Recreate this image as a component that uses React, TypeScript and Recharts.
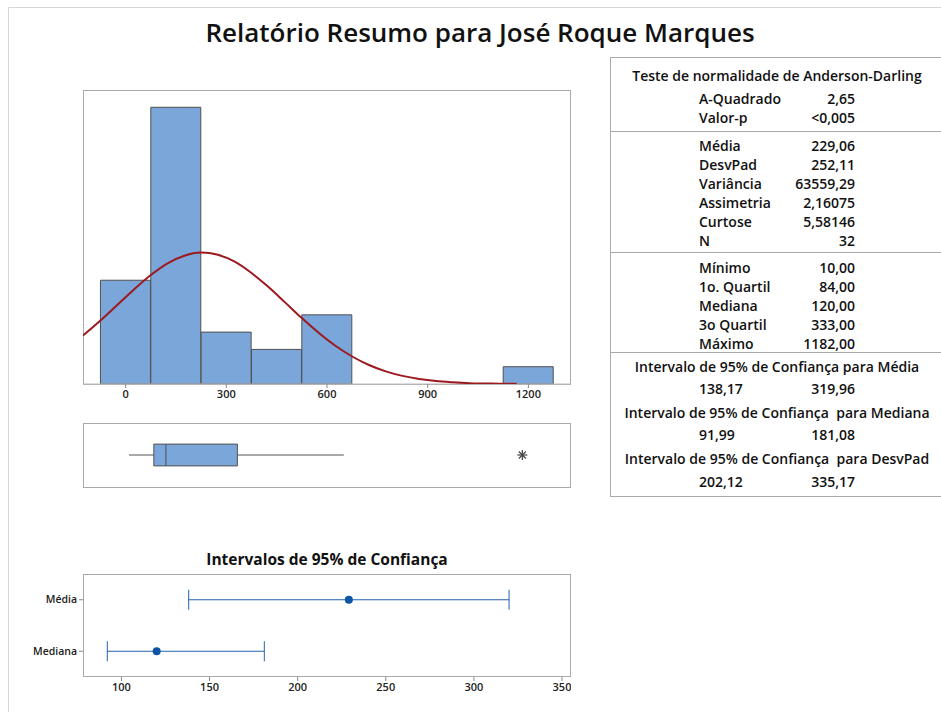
import React from "react";
import {
  BarChart,
  Bar,
  LineChart,
  Line,
  ComposedChart,
  XAxis,
  YAxis,
  Scatter,
  ErrorBar,
  ReferenceArea,
  ReferenceLine,
} from "recharts";

const FONT = "'Open Sans', 'Noto Sans', sans-serif";

// histogram: bin midpoints (bin width 150) and counts, N = 32
const binMids = [0, 150, 300, 450, 600, 750, 900, 1050, 1200];
const binCounts = [6, 16, 3, 2, 4, 0, 0, 0, 1];
const histTicks = [0, 300, 600, 900, 1200];

// fitted normal curve, heights (in counts)
const curveX = [
  -127, -75, -25, 25, 75, 125, 175, 225, 275, 325, 375, 425, 475, 525, 575,
  625, 675, 725, 775, 825, 875, 925, 975, 1025, 1075, 1125, 1165,
];
const curveY = [
  2.8, 3.67, 4.57, 5.47, 6.3, 6.98, 7.42, 7.6, 7.47, 7.07, 6.42, 5.62, 4.72,
  3.81, 2.96, 2.21, 1.59, 1.1, 0.73, 0.47, 0.29, 0.17, 0.1, 0.05, 0.03, 0.01,
  0.01,
];

// boxplot
const boxStats = { whiskerLow: 10, q1: 84, median: 120, q3: 333, whiskerHigh: 650 };
const outliers = [1182];

// confidence intervals panel
const ciNames = ["Média", "Mediana"];
const ciEstimates = [229.06, 120];
const ciLower = [138.17, 91.99];
const ciUpper = [319.96, 181.08];
const ciTicks = [100, 150, 200, 250, 300, 350];

// summary table
const adLabels = ["A-Quadrado", "Valor-p"];
const adValues = ["2,65", "<0,005"];
const momentLabels = ["Média", "DesvPad", "Variância", "Assimetria", "Curtose", "N"];
const momentValues = ["229,06", "252,11", "63559,29", "2,16075", "5,58146", "32"];
const quantLabels = ["Mínimo", "1o. Quartil", "Mediana", "3o Quartil", "Máximo"];
const quantValues = ["10,00", "84,00", "120,00", "333,00", "1182,00"];
const ciTitles = [
  "Intervalo de 95% de Confiança para Média",
  "Intervalo de 95% de Confiança  para Mediana",
  "Intervalo de 95% de Confiança  para DesvPad",
];
const ciLows = ["138,17", "91,99", "202,12"];
const ciHighs = ["319,96", "181,08", "335,17"];

const histData = binMids.map((mid, i) => ({ mid, count: binCounts[i] }));
const curveData = curveX.map((x, i) => ({ x, y: curveY[i] }));
const outlierData = outliers.map((x) => ({ x, y: 0.5 }));
const ciData = ciNames.map((name, i) => ({
  name,
  est: ciEstimates[i],
  err: [ciEstimates[i] - ciLower[i], ciUpper[i] - ciEstimates[i]],
}));

const HIST_DOMAIN: [number, number] = [-127, 1327];
const BAR_FILL = "#7ba6d9";
const BAR_STROKE = "#505050";
const FRAME = "#a9a9a9";
const NO_MARGIN = { top: 0, right: 0, bottom: 0, left: 0 };
const TICK_STYLE = { fontSize: 11, fill: "#222", fontWeight: 600 };

const Asterisk = (props: any) => {
  const { cx, cy } = props;
  const r = 5;
  const d = r * 0.7;
  return (
    <g stroke="#444" strokeWidth={1.2}>
      <line x1={cx - r} y1={cy} x2={cx + r} y2={cy} />
      <line x1={cx} y1={cy - r} x2={cx} y2={cy + r} />
      <line x1={cx - d} y1={cy - d} x2={cx + d} y2={cy + d} />
      <line x1={cx - d} y1={cy + d} x2={cx + d} y2={cy - d} />
    </g>
  );
};

const CiDot = (props: any) => <circle cx={props.cx} cy={props.cy} r={4} fill="#0d56a6" />;

const SummaryTable = () => {
  const labelX = 699;
  const valueX = 855;
  const midX = 777;
  const txt = { fontSize: 14, fontWeight: 600, fill: "#111" } as any;
  return (
    <g fontFamily={FONT}>
      <rect x={610.5} y={57.5} width={340} height={439} fill="none" stroke={FRAME} />
      {[131.5, 252.5, 352.5].map((y) => (
        <line key={y} x1={610.5} x2={941} y1={y} y2={y} stroke={FRAME} />
      ))}
      <text x={midX} y={75} textAnchor="middle" dominantBaseline="central" {...txt}>
        Teste de normalidade de Anderson-Darling
      </text>
      {adLabels.map((l, i) => (
        <g key={l}>
          <text x={labelX} y={98.5 + 19 * i} dominantBaseline="central" {...txt}>{l}</text>
          <text x={valueX} y={98.5 + 19 * i} textAnchor="end" dominantBaseline="central" {...txt}>{adValues[i]}</text>
        </g>
      ))}
      {momentLabels.map((l, i) => (
        <g key={l}>
          <text x={labelX} y={145 + 19 * i} dominantBaseline="central" {...txt}>{l}</text>
          <text x={valueX} y={145 + 19 * i} textAnchor="end" dominantBaseline="central" {...txt}>{momentValues[i]}</text>
        </g>
      ))}
      {quantLabels.map((l, i) => (
        <g key={l}>
          <text x={labelX} y={267 + 19 * i} dominantBaseline="central" {...txt}>{l}</text>
          <text x={valueX} y={267 + 19 * i} textAnchor="end" dominantBaseline="central" {...txt}>{quantValues[i]}</text>
        </g>
      ))}
      {ciTitles.map((t, i) => (
        <g key={t}>
          <text x={midX} y={366.5 + 46 * i} textAnchor="middle" dominantBaseline="central" style={{ whiteSpace: "pre" }} {...txt}>{t}</text>
          <text x={labelX} y={388.5 + 46.3 * i} dominantBaseline="central" {...txt}>{ciLows[i]}</text>
          <text x={valueX} y={388.5 + 46.3 * i} textAnchor="end" dominantBaseline="central" {...txt}>{ciHighs[i]}</text>
        </g>
      ))}
    </g>
  );
};

const abs = (left: number, top: number): React.CSSProperties => ({ position: "absolute", left, top });

export default function App() {
  return (
    <div style={{ position: "absolute", left: 0, top: 0, width: 941, height: 712, background: "#fff", fontFamily: FONT, overflow: "hidden" }}>
      <svg width={941} height={712} style={abs(0, 0)}>
        <line x1={8.5} y1={7.5} x2={941} y2={7.5} stroke="#d6d6d6" />
        <line x1={8.5} y1={7.5} x2={8.5} y2={712} stroke="#d6d6d6" />
        <text x={480} y={42} textAnchor="middle" fontFamily={FONT} fontSize={26} fontWeight={600} fill="#111">
          Relatório Resumo para José Roque Marques
        </text>
        <rect x={83.5} y={90.5} width={487} height={294} fill="none" stroke={FRAME} />
        <rect x={83.5} y={423.5} width={487} height={64} fill="none" stroke={FRAME} />
        <rect x={83.5} y={574.5} width={487} height={102} fill="none" stroke={FRAME} />
        <text x={327} y={565} textAnchor="middle" fontFamily={FONT} fontSize={15.5} fontWeight={700} fill="#111">
          Intervalos de 95% de Confiança
        </text>
        <SummaryTable />
      </svg>

      {/* histogram */}
      <div style={abs(83, 90)}>
        <BarChart width={488} height={324} data={histData} margin={NO_MARGIN} barCategoryGap={0} barGap={0}>
          <XAxis
            type="number"
            dataKey="mid"
            domain={HIST_DOMAIN}
            ticks={histTicks}
            interval={0}
            allowDataOverflow
            height={30}
            tickSize={4}
            tick={TICK_STYLE}
            tickLine={{ stroke: "#8a8a8a" }}
            axisLine={{ stroke: "#bdbdbd" }}
          />
          <YAxis hide domain={[0, 17]} allowDataOverflow />
          <Bar dataKey="count" fill={BAR_FILL} stroke={BAR_STROKE} strokeWidth={1} isAnimationActive={false} />
        </BarChart>
      </div>
      <div style={abs(83, 90)}>
        <LineChart width={488} height={294} data={curveData} margin={NO_MARGIN}>
          <XAxis hide type="number" dataKey="x" domain={HIST_DOMAIN} allowDataOverflow />
          <YAxis hide type="number" domain={[0, 17]} allowDataOverflow />
          <Line type="monotone" dataKey="y" stroke="#9c1a1f" strokeWidth={2} dot={false} isAnimationActive={false} />
        </LineChart>
      </div>

      {/* boxplot */}
      <div style={abs(83, 423)}>
        <ComposedChart width={488} height={64} data={outlierData} margin={NO_MARGIN}>
          <XAxis hide type="number" dataKey="x" domain={HIST_DOMAIN} allowDataOverflow />
          <YAxis hide type="number" dataKey="y" domain={[0, 1]} />
          <ReferenceLine
            segment={[{ x: boxStats.whiskerLow, y: 0.5 }, { x: boxStats.q1, y: 0.5 }]}
            stroke="#555"
          />
          <ReferenceLine
            segment={[{ x: boxStats.q3, y: 0.5 }, { x: boxStats.whiskerHigh, y: 0.5 }]}
            stroke="#555"
          />
          <ReferenceArea
            x1={boxStats.q1}
            x2={boxStats.q3}
            y1={0.33}
            y2={0.67}
            fill={BAR_FILL}
            fillOpacity={1}
            stroke={BAR_STROKE}
            strokeOpacity={1}
          />
          <ReferenceLine
            segment={[{ x: boxStats.median, y: 0.33 }, { x: boxStats.median, y: 0.67 }]}
            stroke={BAR_STROKE}
          />
          <Scatter dataKey="y" shape={<Asterisk />} isAnimationActive={false} />
        </ComposedChart>
      </div>

      {/* confidence intervals */}
      <div style={abs(0, 574)}>
        <ComposedChart layout="vertical" width={571} height={133} data={ciData} margin={NO_MARGIN}>
          <XAxis
            type="number"
            dataKey="est"
            domain={[78.2, 355.1]}
            ticks={ciTicks}
            interval={0}
            allowDataOverflow
            height={30}
            tickSize={4}
            axisLine={false}
            tick={TICK_STYLE}
            tickLine={{ stroke: "#8a8a8a" }}
          />
          <YAxis
            type="category"
            dataKey="name"
            width={83}
            tickSize={4}
            axisLine={false}
            padding={{ top: 25.75, bottom: 25.75 }}
            tick={{ fontSize: 10.5, fill: "#222", fontWeight: 600 }}
            tickLine={{ stroke: "#8a8a8a" }}
          />
          <Scatter dataKey="est" shape={<CiDot />} isAnimationActive={false}>
            <ErrorBar dataKey="err" direction="x" width={10} stroke="#2361ae" strokeWidth={1} />
          </Scatter>
        </ComposedChart>
      </div>
    </div>
  );
}
